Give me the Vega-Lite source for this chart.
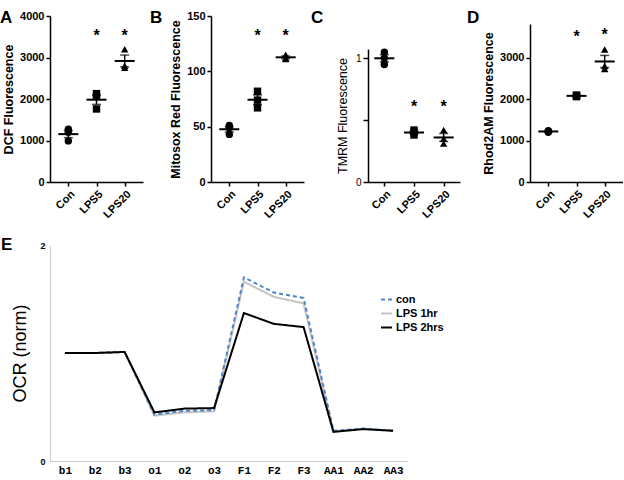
{
  "$schema": "https://vega.github.io/schema/vega-lite/v6.json",
  "padding": {"left": 0, "top": 8, "right": 0, "bottom": 0},
  "background": "white",
  "config": {
    "font": "Liberation Sans",
    "view": {"stroke": null},
    "axis": {"grid": false, "domainColor": "#000", "tickColor": "#000", "labelColor": "#000", "titleColor": "#000", "labelFont": "Liberation Sans", "titleFont": "Liberation Sans"},
    "title": {"fontSize": 17, "fontWeight": "bold", "font": "Liberation Sans", "anchor": "start", "frame": "group", "color": "#000"}
  },
  "datasets": {
    "A": [
      {"group": "Con", "value": 1270}, {"group": "Con", "value": 1200}, {"group": "Con", "value": 990},
      {"group": "LPS5", "value": 2130}, {"group": "LPS5", "value": 2060}, {"group": "LPS5", "value": 1760},
      {"group": "LPS20", "value": 3200}, {"group": "LPS20", "value": 2800}, {"group": "LPS20", "value": 2750}
    ],
    "B": [
      {"group": "Con", "value": 51}, {"group": "Con", "value": 49}, {"group": "Con", "value": 43},
      {"group": "LPS5", "value": 82}, {"group": "LPS5", "value": 74}, {"group": "LPS5", "value": 67},
      {"group": "LPS20", "value": 115}, {"group": "LPS20", "value": 112}, {"group": "LPS20", "value": 111}
    ],
    "C": [
      {"group": "Con", "value": 1.05}, {"group": "Con", "value": 1.0}, {"group": "Con", "value": 0.95},
      {"group": "LPS5", "value": 0.42}, {"group": "LPS5", "value": 0.40}, {"group": "LPS5", "value": 0.38},
      {"group": "LPS20", "value": 0.42}, {"group": "LPS20", "value": 0.35}, {"group": "LPS20", "value": 0.31}
    ],
    "D": [
      {"group": "Con", "value": 1240}, {"group": "Con", "value": 1220}, {"group": "Con", "value": 1200},
      {"group": "LPS5", "value": 2100}, {"group": "LPS5", "value": 2080}, {"group": "LPS5", "value": 2060},
      {"group": "LPS20", "value": 3200}, {"group": "LPS20", "value": 2800}, {"group": "LPS20", "value": 2730}
    ],
    "E": [
      {"series": "LPS 1hr", "step": "b1", "ocr": 1.0}, {"series": "LPS 1hr", "step": "b2", "ocr": 1.0}, {"series": "LPS 1hr", "step": "b3", "ocr": 1.01},
      {"series": "LPS 1hr", "step": "o1", "ocr": 0.42}, {"series": "LPS 1hr", "step": "o2", "ocr": 0.45}, {"series": "LPS 1hr", "step": "o3", "ocr": 0.46},
      {"series": "LPS 1hr", "step": "F1", "ocr": 1.66}, {"series": "LPS 1hr", "step": "F2", "ocr": 1.52}, {"series": "LPS 1hr", "step": "F3", "ocr": 1.46},
      {"series": "LPS 1hr", "step": "AA1", "ocr": 0.27}, {"series": "LPS 1hr", "step": "AA2", "ocr": 0.30}, {"series": "LPS 1hr", "step": "AA3", "ocr": 0.28},
      {"series": "con", "step": "b1", "ocr": 1.0}, {"series": "con", "step": "b2", "ocr": 1.0}, {"series": "con", "step": "b3", "ocr": 1.01},
      {"series": "con", "step": "o1", "ocr": 0.43}, {"series": "con", "step": "o2", "ocr": 0.465}, {"series": "con", "step": "o3", "ocr": 0.47},
      {"series": "con", "step": "F1", "ocr": 1.70}, {"series": "con", "step": "F2", "ocr": 1.56}, {"series": "con", "step": "F3", "ocr": 1.51},
      {"series": "con", "step": "AA1", "ocr": 0.28}, {"series": "con", "step": "AA2", "ocr": 0.30}, {"series": "con", "step": "AA3", "ocr": 0.28},
      {"series": "LPS 2hrs", "step": "b1", "ocr": 1.0}, {"series": "LPS 2hrs", "step": "b2", "ocr": 1.0}, {"series": "LPS 2hrs", "step": "b3", "ocr": 1.01},
      {"series": "LPS 2hrs", "step": "o1", "ocr": 0.45}, {"series": "LPS 2hrs", "step": "o2", "ocr": 0.485}, {"series": "LPS 2hrs", "step": "o3", "ocr": 0.49},
      {"series": "LPS 2hrs", "step": "F1", "ocr": 1.37}, {"series": "LPS 2hrs", "step": "F2", "ocr": 1.27}, {"series": "LPS 2hrs", "step": "F3", "ocr": 1.24},
      {"series": "LPS 2hrs", "step": "AA1", "ocr": 0.27}, {"series": "LPS 2hrs", "step": "AA2", "ocr": 0.295}, {"series": "LPS 2hrs", "step": "AA3", "ocr": 0.28}
    ]
  },
  "spacing": 16,
  "vconcat": [
    {
      "spacing": 7,
      "hconcat": [
        {
          "width": 93, "height": 166,
          "title": {"text": "A", "dx": -50, "offset": -17},
          "data": {"name": "A"},
          "encoding": {"x": {"field": "group", "type": "nominal", "sort": ["Con", "LPS5", "LPS20"], "scale": {"type": "point", "padding": 0.65}, "axis": {"title": null, "labelAngle": -45, "labelFontSize": 11, "labelFontWeight": "bold", "domainWidth": 1.5, "tickWidth": 1.5, "tickSize": 4, "labelPadding": 2}}},
          "layer": [
            {"mark": {"type": "point", "filled": true, "size": 55, "color": "#000", "opacity": 1},
             "encoding": {"y": {"field": "value", "type": "quantitative", "title": "DCF Fluorescence", "scale": {"domain": [0, 4000], "nice": false}, "axis": {"values": [0, 1000, 2000, 3000, 4000], "format": "d", "titleFontSize": 12.5, "titleFontWeight": "bold", "labelFontSize": 11, "labelFontWeight": "bold", "domainWidth": 1.5, "tickWidth": 1.5, "tickSize": 4, "titlePadding": 4}},
                          "shape": {"field": "group", "type": "nominal", "scale": {"domain": ["Con", "LPS5", "LPS20"], "range": ["circle", "square", "triangle-up"]}, "legend": null}}},
            {"mark": {"type": "tick", "color": "#000", "size": 20, "thickness": 2}, "encoding": {"y": {"aggregate": "mean", "field": "value", "type": "quantitative", "title": "DCF Fluorescence"}}},
            {"mark": {"type": "errorbar", "extent": "stderr", "ticks": {"size": 9, "color": "#000", "thickness": 1.5}, "rule": {"color": "#000", "strokeWidth": 1.5}}, "encoding": {"y": {"field": "value", "type": "quantitative", "title": "DCF Fluorescence"}}},
            {"data": {"values": [{"group": "LPS5", "star": 3520}, {"group": "LPS20", "star": 3520}]}, "mark": {"type": "text", "text": "*", "fontSize": 16, "fontWeight": "bold", "color": "#000", "baseline": "middle"}, "encoding": {"y": {"field": "star", "type": "quantitative", "title": "DCF Fluorescence"}}}
          ]
        },
        {
          "width": 93, "height": 166,
          "title": {"text": "B", "dx": -61, "offset": -17},
          "data": {"name": "B"},
          "encoding": {"x": {"field": "group", "type": "nominal", "sort": ["Con", "LPS5", "LPS20"], "scale": {"type": "point", "padding": 0.65}, "axis": {"title": null, "labelAngle": -45, "labelFontSize": 11, "labelFontWeight": "bold", "domainWidth": 1.5, "tickWidth": 1.5, "tickSize": 4, "labelPadding": 2}}},
          "layer": [
            {"mark": {"type": "point", "filled": true, "size": 55, "color": "#000", "opacity": 1},
             "encoding": {"y": {"field": "value", "type": "quantitative", "title": "Mitosox Red Fluorescence", "scale": {"domain": [0, 150], "nice": false}, "axis": {"values": [0, 50, 100, 150], "format": "d", "titleFontSize": 12.5, "titleFontWeight": "bold", "labelFontSize": 11, "labelFontWeight": "bold", "domainWidth": 1.5, "tickWidth": 1.5, "tickSize": 4, "titlePadding": 4}},
                          "shape": {"field": "group", "type": "nominal", "scale": {"domain": ["Con", "LPS5", "LPS20"], "range": ["circle", "square", "triangle-up"]}, "legend": null}}},
            {"mark": {"type": "tick", "color": "#000", "size": 20, "thickness": 2}, "encoding": {"y": {"aggregate": "mean", "field": "value", "type": "quantitative", "title": "Mitosox Red Fluorescence"}}},
            {"mark": {"type": "errorbar", "extent": "stderr", "ticks": {"size": 9, "color": "#000", "thickness": 1.5}, "rule": {"color": "#000", "strokeWidth": 1.5}}, "encoding": {"y": {"field": "value", "type": "quantitative", "title": "Mitosox Red Fluorescence"}}},
            {"data": {"values": [{"group": "LPS5", "star": 132}, {"group": "LPS20", "star": 132}]}, "mark": {"type": "text", "text": "*", "fontSize": 16, "fontWeight": "bold", "color": "#000", "baseline": "middle"}, "encoding": {"y": {"field": "star", "type": "quantitative", "title": "Mitosox Red Fluorescence"}}}
          ]
        },
        {
          "width": 92, "height": 166,
          "title": {"text": "C", "dx": -57, "offset": -10.6},
          "data": {"name": "C"},
          "encoding": {"x": {"field": "group", "type": "nominal", "sort": ["Con", "LPS5", "LPS20"], "scale": {"type": "point", "padding": 0.55}, "axis": {"title": null, "labelAngle": -45, "labelFontSize": 11, "labelFontWeight": "bold", "domainWidth": 1.5, "tickWidth": 1.5, "tickSize": 4, "labelPadding": 2}}},
          "layer": [
            {"mark": {"type": "point", "filled": true, "size": 55, "color": "#000", "opacity": 1},
             "encoding": {"y": {"field": "value", "type": "quantitative", "title": "TMRM Fluorescence", "scale": {"domain": [0, 1.075], "nice": false, "range": [166, 33]}, "axis": {"values": [0, 0.5, 1], "labelExpr": "datum.value == 0.5 ? '' : format(datum.value, 'd')", "titleFontSize": 12.5, "titleFontWeight": "normal", "labelFontSize": 10, "labelFontWeight": "normal", "domainWidth": 1.5, "tickWidth": 1.5, "tickSize": 5, "titlePadding": 6}},
                          "shape": {"field": "group", "type": "nominal", "scale": {"domain": ["Con", "LPS5", "LPS20"], "range": ["circle", "square", "triangle-up"]}, "legend": null}}},
            {"mark": {"type": "tick", "color": "#000", "size": 20, "thickness": 2}, "encoding": {"y": {"aggregate": "mean", "field": "value", "type": "quantitative", "title": "TMRM Fluorescence"}}},
            {"mark": {"type": "errorbar", "extent": "stderr", "ticks": {"size": 9, "color": "#000", "thickness": 1.5}, "rule": {"color": "#000", "strokeWidth": 1.5}}, "encoding": {"y": {"field": "value", "type": "quantitative", "title": "TMRM Fluorescence"}}},
            {"data": {"values": [{"group": "LPS5", "star": 0.61}, {"group": "LPS20", "star": 0.61}]}, "mark": {"type": "text", "text": "*", "fontSize": 16, "fontWeight": "bold", "color": "#000", "baseline": "middle"}, "encoding": {"y": {"field": "star", "type": "quantitative", "title": "TMRM Fluorescence"}}}
          ]
        },
        {
          "width": 93, "height": 166,
          "title": {"text": "D", "dx": -63, "offset": -10.6},
          "data": {"name": "D"},
          "encoding": {"x": {"field": "group", "type": "nominal", "sort": ["Con", "LPS5", "LPS20"], "scale": {"type": "point", "padding": 0.65}, "axis": {"title": null, "labelAngle": -45, "labelFontSize": 11, "labelFontWeight": "bold", "domainWidth": 1.5, "tickWidth": 1.5, "tickSize": 4, "labelPadding": 2}}},
          "layer": [
            {"mark": {"type": "point", "filled": true, "size": 55, "color": "#000", "opacity": 1},
             "encoding": {"y": {"field": "value", "type": "quantitative", "title": "Rhod2AM Fluorescence", "scale": {"domain": [0, 3815], "nice": false, "range": [166, 8]}, "axis": {"values": [0, 1000, 2000, 3000], "format": "d", "titleFontSize": 12.5, "titleFontWeight": "bold", "labelFontSize": 11, "labelFontWeight": "bold", "domainWidth": 1.5, "tickWidth": 1.5, "tickSize": 4, "titlePadding": 4}},
                          "shape": {"field": "group", "type": "nominal", "scale": {"domain": ["Con", "LPS5", "LPS20"], "range": ["circle", "square", "triangle-up"]}, "legend": null}}},
            {"mark": {"type": "tick", "color": "#000", "size": 20, "thickness": 2}, "encoding": {"y": {"aggregate": "mean", "field": "value", "type": "quantitative", "title": "Rhod2AM Fluorescence"}}},
            {"mark": {"type": "errorbar", "extent": "stderr", "ticks": {"size": 9, "color": "#000", "thickness": 1.5}, "rule": {"color": "#000", "strokeWidth": 1.5}}, "encoding": {"y": {"field": "value", "type": "quantitative", "title": "Rhod2AM Fluorescence"}}},
            {"data": {"values": [{"group": "LPS5", "star": 3500}, {"group": "LPS20", "star": 3540}]}, "mark": {"type": "text", "text": "*", "fontSize": 16, "fontWeight": "bold", "color": "#000", "baseline": "middle"}, "encoding": {"y": {"field": "star", "type": "quantitative", "title": "Rhod2AM Fluorescence"}}}
          ]
        }
      ]
    },
    {
      "width": 358, "height": 216,
      "title": {"text": "E", "dx": -49, "offset": -13},
      "data": {"name": "E"},
      "mark": {"type": "line", "strokeWidth": 2},
      "encoding": {
        "x": {"field": "step", "type": "nominal", "sort": ["b1", "b2", "b3", "o1", "o2", "o3", "F1", "F2", "F3", "AA1", "AA2", "AA3"], "scale": {"type": "point", "padding": 0.5}, "axis": {"title": null, "labelAngle": 0, "labelFont": "Liberation Mono", "labelFontWeight": "bold", "labelFontSize": 11, "ticks": false, "domainColor": "#cccccc", "domainWidth": 1, "labelPadding": 3}},
        "y": {"field": "ocr", "type": "quantitative", "scale": {"domain": [0, 2], "nice": false}, "axis": {"values": [0, 1, 2], "format": "d", "title": "OCR (norm)", "titleFontSize": 18, "titleFontWeight": "normal", "labelFontSize": 9, "labelFontWeight": "bold", "ticks": false, "domainColor": "#cccccc", "domainWidth": 1, "labelPadding": 5, "titlePadding": 10}},
        "color": {"field": "series", "type": "nominal", "scale": {"domain": ["con", "LPS 1hr", "LPS 2hrs"], "range": ["#4f86c6", "#c4c4c4", "#000000"]},
                  "legend": {"orient": "none", "legendX": 330, "legendY": 277, "title": null, "labelFontSize": 11, "labelFontWeight": "bold", "labelColor": "#000", "symbolType": "stroke", "symbolSize": 120, "symbolStrokeWidth": 2, "rowPadding": 2, "labelOffset": 3}},
        "strokeDash": {"field": "series", "type": "nominal", "scale": {"domain": ["con", "LPS 1hr", "LPS 2hrs"], "range": [[4, 3], [1, 0], [1, 0]]}}
      }
    }
  ]
}
